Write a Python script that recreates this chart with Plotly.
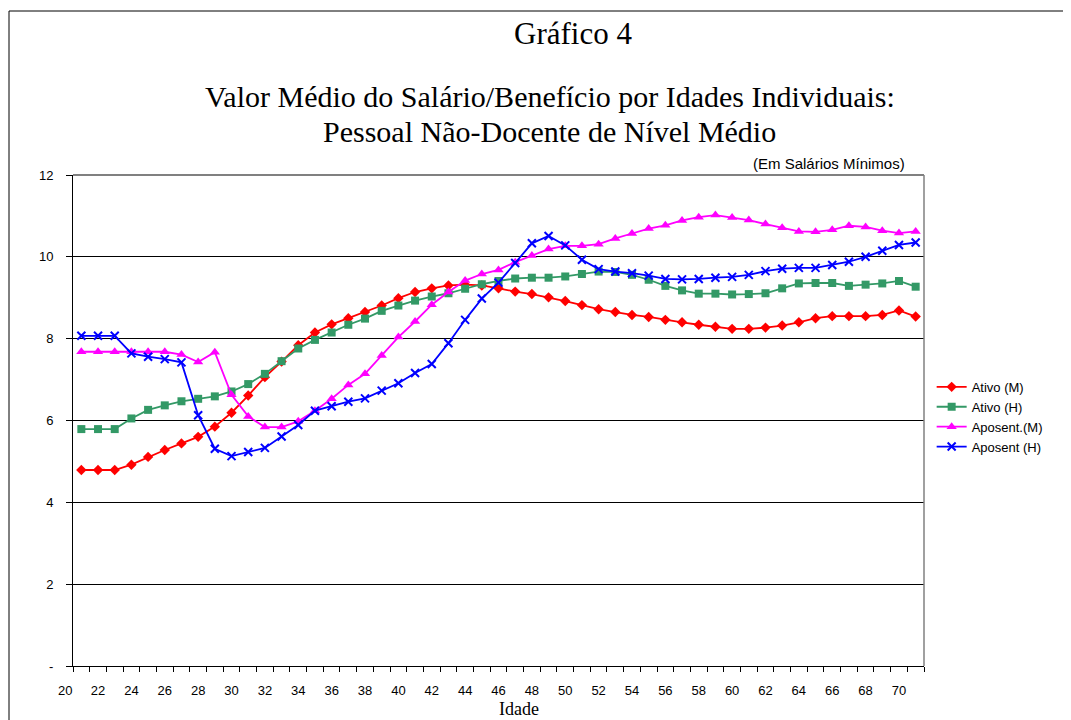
import plotly.graph_objects as go

ages = list(range(21, 72))

ativo_m = [4.79, 4.79, 4.79, 4.92, 5.11, 5.28, 5.44, 5.60, 5.85, 6.19,
           6.61, 7.06, 7.44, 7.84, 8.15, 8.35, 8.50, 8.65, 8.81, 8.99,
           9.14, 9.23, 9.30, 9.32, 9.30, 9.23, 9.15, 9.09, 9.01, 8.92,
           8.82, 8.72, 8.65, 8.58, 8.53, 8.46, 8.40, 8.34, 8.29, 8.24,
           8.24, 8.27, 8.32, 8.40, 8.50, 8.55, 8.55, 8.55, 8.58, 8.69, 8.54]

ativo_h = [5.79, 5.79, 5.79, 6.05, 6.26, 6.37, 6.47, 6.53, 6.59, 6.71,
           6.89, 7.14, 7.45, 7.76, 7.97, 8.15, 8.34, 8.49, 8.68, 8.81,
           8.93, 9.03, 9.11, 9.22, 9.33, 9.41, 9.47, 9.49, 9.49, 9.52,
           9.58, 9.64, 9.63, 9.56, 9.44, 9.29, 9.18, 9.10, 9.10, 9.08,
           9.09, 9.11, 9.23, 9.35, 9.36, 9.36, 9.29, 9.32, 9.35, 9.41, 9.27]

apos_m = [7.68, 7.68, 7.68, 7.68, 7.68, 7.68, 7.61, 7.43, 7.67, 6.63,
          6.10, 5.84, 5.84, 5.98, 6.24, 6.53, 6.87, 7.14, 7.59, 8.04,
          8.42, 8.83, 9.14, 9.42, 9.58, 9.68, 9.87, 10.03, 10.19, 10.27,
          10.27, 10.31, 10.45, 10.57, 10.69, 10.77, 10.89, 10.97, 11.02, 10.96,
          10.90, 10.80, 10.71, 10.62, 10.61, 10.66, 10.76, 10.73, 10.64, 10.58, 10.62]

apos_h = [8.07, 8.07, 8.07, 7.64, 7.56, 7.50, 7.42, 6.13, 5.31, 5.13,
          5.23, 5.33, 5.61, 5.89, 6.24, 6.35, 6.46, 6.54, 6.73, 6.91,
          7.16, 7.38, 7.89, 8.46, 8.98, 9.37, 9.85, 10.33, 10.51, 10.28,
          9.93, 9.70, 9.64, 9.60, 9.54, 9.46, 9.45, 9.46, 9.49, 9.51,
          9.56, 9.65, 9.71, 9.73, 9.73, 9.80, 9.88, 10.00, 10.15, 10.29, 10.35]

x_tick_vals = list(range(20, 71, 2))
x_tick_text = [str(v) for v in x_tick_vals]
y_tick_vals = [0, 2, 4, 6, 8, 10, 12]
y_tick_text = ["-", "2", "4", "6", "8", "10", "12"]

series = [
    ("Ativo (M)", ativo_m, "#FF0000", "diamond", 8),
    ("Ativo (H)", ativo_h, "#339966", "square", 8),
    ("Aposent.(M)", apos_m, "#FF00FF", "triangle-up", 9),
    ("Aposent (H)", apos_h, "#0000FF", "x-thin-open", 8),
]

SANS = "Liberation Sans, Arial, sans-serif"
SERIF = "Liberation Serif, Times New Roman, serif"

fig = go.Figure()
for name, vals, color, sym, size in series:
    marker = dict(symbol=sym, size=size, color=color)
    if sym == "x-thin-open":
        marker["line"] = dict(color=color, width=2)
    fig.add_trace(go.Scatter(x=ages, y=vals, name=name, mode="lines+markers",
                             line=dict(color=color, width=1.8), marker=marker))

x_lo, x_hi = ages[0] - 0.5, ages[-1] + 0.5
minor_vals = [a - 0.5 for a in ages] + [ages[-1] + 0.5]

# the page body adds an 8px offset, so the figure is 8px smaller than the window
fig.update_layout(
    width=1063, height=712,
    margin=dict(l=65, r=147, t=167, b=54),
    paper_bgcolor="white", plot_bgcolor="white",
    font=dict(family=SANS, size=13, color="black"),
    showlegend=True,
    legend=dict(x=1.009, y=0.599, xanchor="left", yanchor="top",
                font=dict(family=SANS, size=13, color="black"),
                bgcolor="rgba(0,0,0,0)", borderwidth=0),
    xaxis=dict(range=[x_lo, x_hi], tickmode="array",
               tickvals=x_tick_vals, ticktext=x_tick_text,
               ticks="outside", ticklen=5, tickcolor="rgba(0,0,0,0)",
               ticklabelstandoff=7,
               showgrid=False, zeroline=False,
               showline=True, linecolor="black", linewidth=1,
               tickfont=dict(family=SANS, size=13),
               minor=dict(tickmode="array", tickvals=minor_vals, ticks="outside",
                          ticklen=5, tickcolor="black", showgrid=False)),
    yaxis=dict(range=[0, 12], tickmode="array",
               tickvals=y_tick_vals, ticktext=y_tick_text,
               ticks="outside", ticklen=6, tickcolor="black",
               showgrid=True, gridcolor="black", gridwidth=1,
               zeroline=False, showline=True, linecolor="black", linewidth=1,
               tickfont=dict(family=SANS, size=13), ticklabelstandoff=10),
)

# label for the first category tick (outside the plotted range)
frac20 = (x_tick_vals[0] - x_lo) / (x_hi - x_lo)
fig.add_annotation(x=frac20, y=0, xref="paper", yref="paper", text=x_tick_text[0],
                   showarrow=False, xanchor="center", yanchor="top", yshift=-15,
                   font=dict(family=SANS, size=13))

# top and right plot borders in gray
fig.add_shape(type="line", xref="paper", yref="paper", x0=0, x1=1, y0=1, y1=1,
              line=dict(color="#808080", width=2), layer="above")
fig.add_shape(type="line", xref="paper", yref="paper", x0=1, x1=1, y0=0, y1=1,
              line=dict(color="#808080", width=1.5), layer="above")

# outer chart frame
fig.add_shape(type="rect", xref="paper", yref="paper",
              x0=-0.0752, x1=1.1692, y0=-0.13, y1=1.334,
              line=dict(color="black", width=1))

fig.add_annotation(text="Gráfico 4", x=0.5875, y=1.289, xref="paper", yref="paper",
                   xanchor="center", yanchor="middle",
                   showarrow=False, font=dict(family=SERIF, size=31))
fig.add_annotation(text="Valor Médio do Salário/Benefício por Idades Individuais:",
                   x=0.56, y=1.160, xref="paper", yref="paper",
                   xanchor="center", yanchor="middle",
                   showarrow=False, font=dict(family=SERIF, size=30))
fig.add_annotation(text="Pessoal Não-Docente de Nível Médio",
                   x=0.56, y=1.0895, xref="paper", yref="paper",
                   xanchor="center", yanchor="middle",
                   showarrow=False, font=dict(family=SERIF, size=30))
fig.add_annotation(text="(Em Salários Mínimos)", x=0.980, y=1.0244, xref="paper", yref="paper",
                   xanchor="right", yanchor="middle",
                   showarrow=False, font=dict(family=SANS, size=15))
fig.add_annotation(text="Idade", x=0.524, y=-0.0876, xref="paper", yref="paper",
                   xanchor="center", yanchor="middle",
                   showarrow=False, font=dict(family=SERIF, size=18))

fig.write_html("out.html")
